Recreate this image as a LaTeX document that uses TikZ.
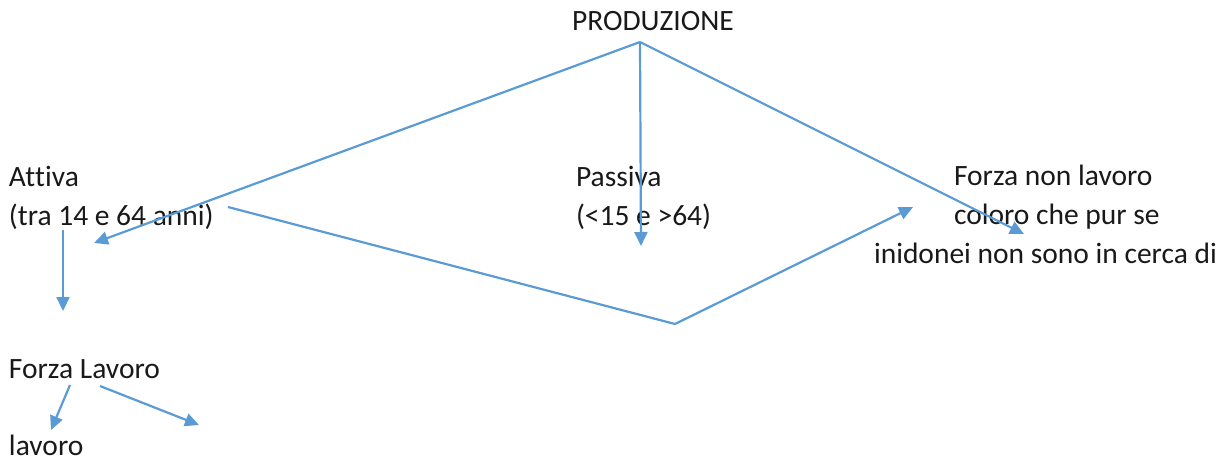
\documentclass[tikz,border=0pt]{standalone}
\usepackage{fontspec}
\setmainfont{Carlito}[Ligatures={NoCommon},RawFeature={-liga;-clig}]
\usetikzlibrary{arrows.meta}
\definecolor{arrowblue}{HTML}{5B9BD5}
\newcommand{\nolig}{\kern0pt\relax}
\begin{document}
\begin{tikzpicture}[x=1pt,y=-1pt,
  lbl/.style={anchor=base west,inner sep=0pt,outer sep=0pt,font=\fontsize{29.5}{39}\selectfont,text=black!90},
  conn/.style={draw=arrowblue,line width=2.2pt},
  arr/.style={conn,-{Triangle[length=14pt,width=13pt]}}]
\useasboundingbox (0,0) rectangle (1226,464);
% texts
\node[lbl] (prod) at (572,30) {PRODUZIONE};
\node[lbl] (attiva) at (9,186) {At\nolig tiva};
\node[lbl] (attiva2) at (9,225) {(tra 14 e 64 anni)};
\node[lbl] (passiva) at (576,186) {Passiva};
\node[lbl] (passiva2) at (576,225) {(<15 e >64)};
\node[lbl] (fnl1) at (954,185) {Forza non lavoro};
\node[lbl] (fnl2) at (954,224) {coloro che pur se};
\node[lbl] (fnl3) at (874,263) {inidonei non sono in cerca di};
\node[lbl] (fl) at (9,378) {Forza Lavoro};
\node[lbl] (lav) at (9,455) {lavoro};
% connector points
\coordinate (top) at (640,42);
\coordinate (tA) at (94,243);
\coordinate (tP) at (641,246);
\coordinate (tF) at (1024,234);
\coordinate (sA) at (228,207);
\coordinate (mid) at (675,324);
\coordinate (tM) at (913,207);
\coordinate (sD) at (63,230);
\coordinate (tD) at (63,311);
\coordinate (sL1) at (70,385);
\coordinate (tL1) at (51,430);
\coordinate (sL2) at (100,386);
\coordinate (tL2) at (199,425);
% connectors
\draw[arr] (top) -- (tA);
\draw[arr] (top) -- (tP);
\draw[arr] (top) -- (tF);
\draw[arr] (sA) -- (mid) -- (tM);
\draw[arr] (sD) -- (tD);
\draw[arr] (sL1) -- (tL1);
\draw[arr] (sL2) -- (tL2);
\end{tikzpicture}
\end{document}
